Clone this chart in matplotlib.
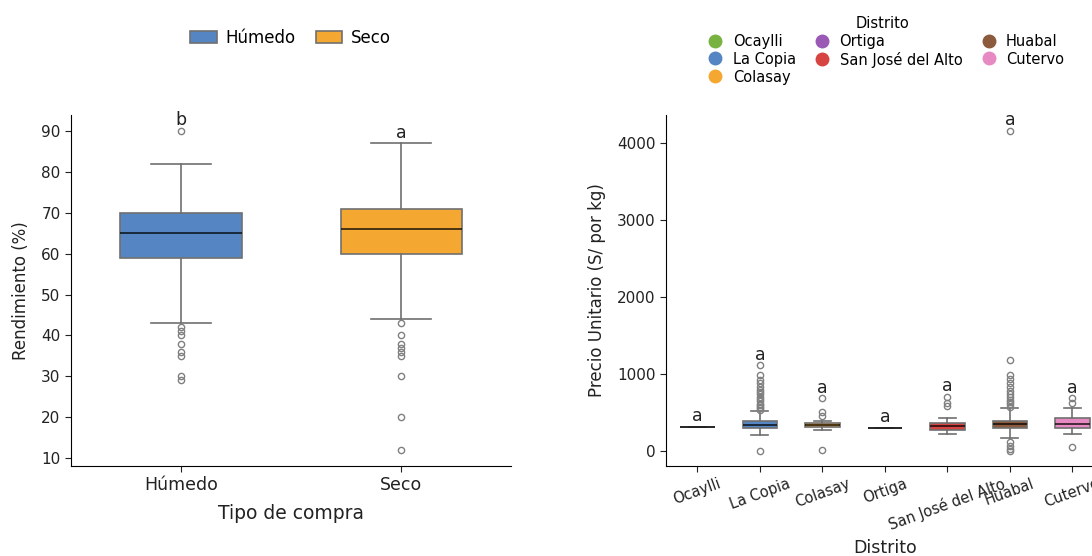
import numpy as np
import matplotlib.pyplot as plt
from matplotlib.patches import Patch
from matplotlib.lines import Line2D

# ---- Rendimiento por tipo de compra ----
tipos = ["Húmedo", "Seco"]
tipo_colors = ["#5585c2", "#f4a832"]
rend_q1 = [59, 60]
rend_med = [65, 66]
rend_q3 = [70, 71]
rend_lo = [43, 44]
rend_hi = [82, 87]
rend_fliers = [
    [90, 42, 41, 40, 38, 36, 35, 30, 29],
    [43, 40, 38, 37, 36, 35, 30, 20, 12],
]
rend_letters = ["b", "a"]

# ---- Precio unitario por distrito ----
distritos = ["Ocaylli", "La Copia", "Colasay", "Ortiga",
             "San José del Alto", "Huabal", "Cutervo"]
dist_colors = ["#78b240", "#5585c2", "#f4a832", "#9b59b6",
               "#d64541", "#8c5a3c", "#e78ac3"]
precio_q1 = [310, 290, 310, 295, 270, 290, 300]
precio_med = [310, 330, 335, 295, 320, 340, 350]
precio_q3 = [310, 380, 360, 295, 360, 390, 420]
precio_lo = [310, 200, 270, 295, 220, 160, 220]
precio_hi = [310, 510, 380, 295, 420, 550, 560]
precio_fliers = [
    [],
    [0, 530, 550, 570, 590, 610, 640, 670, 700, 730, 760, 790, 830, 880, 920, 980, 1110],
    [10, 450, 500, 680],
    [],
    [580, 620, 700],
    [0, 20, 60, 110, 570, 600, 630, 660, 700, 740, 780, 830, 880, 930, 980, 1180, 4160],
    [50, 620, 680],
]
precio_letters = ["a"] * 7


def make_stats(q1, med, q3, lo, hi, fliers):
    return [dict(q1=a, med=b, q3=c, whislo=d, whishi=e, fliers=f)
            for a, b, c, d, e, f in zip(q1, med, q3, lo, hi, fliers)]


def draw(ax, stats, colors, letters):
    bp = ax.bxp(stats, positions=range(len(stats)), widths=0.55,
                patch_artist=True, showfliers=True,
                boxprops=dict(edgecolor="#707070", linewidth=1.2),
                whiskerprops=dict(color="#707070", linewidth=1.2),
                capprops=dict(color="#707070", linewidth=1.2),
                medianprops=dict(color="black", linewidth=1.3, alpha=0.75),
                flierprops=dict(marker="o", markersize=4.5, markerfacecolor="none",
                                markeredgecolor="#808080", markeredgewidth=1.0))
    for box, c in zip(bp["boxes"], colors):
        box.set_facecolor(c)
    tops = [max([s["whishi"]] + list(s["fliers"])) for s in stats]
    bots = [min([s["whislo"]] + list(s["fliers"])) for s in stats]
    off = 0.005 * (max(tops) - min(bots))
    for i, (t, l) in enumerate(zip(tops, letters)):
        ax.text(i, t + off, l, ha="center", va="bottom", fontsize=12.5, color="#222222")
    ax.set_xlim(-0.5, len(stats) - 0.5)
    ax.spines["top"].set_visible(False)
    ax.spines["right"].set_visible(False)
    ax.tick_params(labelsize=11, length=4, colors="#222222")


fig = plt.figure(figsize=(10.92, 5.56), dpi=100)
ax1 = fig.add_axes([0.065, 0.162, 0.403, 0.631])
ax2 = fig.add_axes([0.61, 0.162, 0.4006, 0.631])

draw(ax1, make_stats(rend_q1, rend_med, rend_q3, rend_lo, rend_hi, rend_fliers),
     tipo_colors, rend_letters)
ax1.set_ylim(8.1, 93.9)
ax1.set_yticks(range(10, 91, 10))
ax1.set_xticks(range(len(tipos)))
ax1.set_xticklabels(tipos, fontsize=12.5)
ax1.set_xlabel("Tipo de compra", fontsize=13.5, color="#222222", labelpad=7)
ax1.set_ylabel("Rendimiento (%)", fontsize=12, color="#222222", labelpad=8)

draw(ax2, make_stats(precio_q1, precio_med, precio_q3, precio_lo, precio_hi, precio_fliers),
     dist_colors, precio_letters)
ax2.set_ylim(-200, 4365)
ax2.set_yticks([0, 1000, 2000, 3000, 4000])
ax2.set_xticks(range(len(distritos)))
ax2.set_xticklabels(distritos, rotation=20, fontsize=10.5)
ax2.set_xlabel("Distrito", fontsize=12.5, color="#222222")
ax2.set_ylabel("Precio Unitario (S/ por kg)", fontsize=12, color="#222222", labelpad=8)

h1 = [Patch(facecolor=c, edgecolor="#707070", linewidth=1.2) for c in tipo_colors]
fig.legend(h1, tipos, loc="center", bbox_to_anchor=(0.266, 0.932), ncol=2,
           frameon=False, fontsize=12, handlelength=1.6, handleheight=0.8,
           columnspacing=1.2, handletextpad=0.5)

h2 = [Line2D([], [], marker="o", linestyle="none", markersize=9,
             markerfacecolor=c, markeredgecolor=c) for c in dist_colors]
fig.legend(h2, distritos, loc="upper center",
           bbox_to_anchor=(0.808, 0.99), ncol=3, frameon=False, fontsize=10.5,
           title="Distrito", title_fontsize=10.5, handletextpad=0.2,
           columnspacing=0.8, labelspacing=0.2, borderaxespad=0.3)

fig.savefig("out.png", dpi=100)
